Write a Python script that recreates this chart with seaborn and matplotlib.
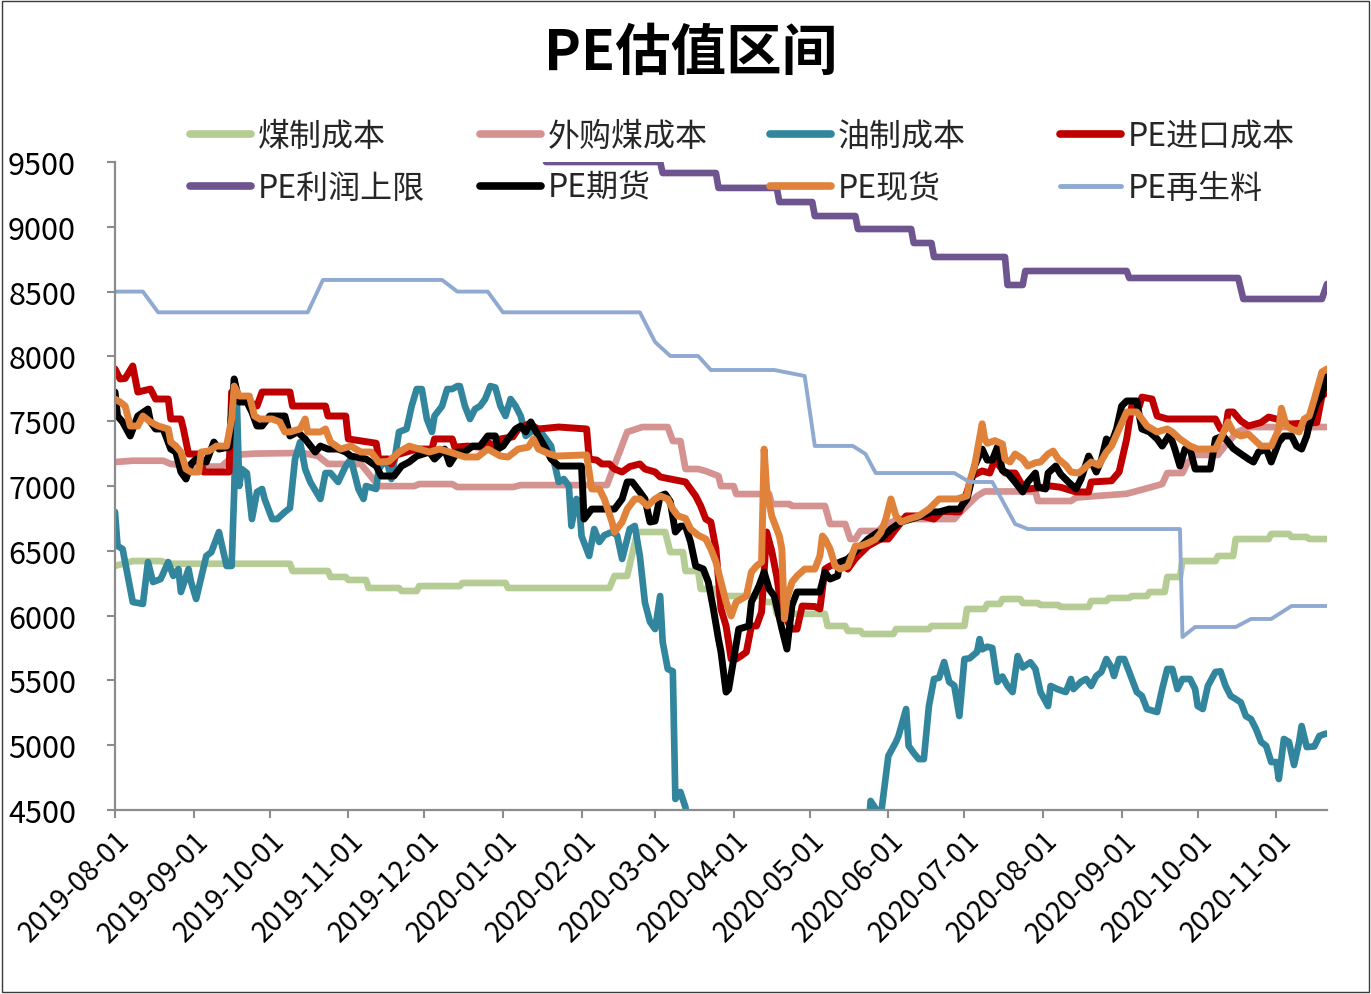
import pandas as pd
import numpy as np
import matplotlib
matplotlib.use("Agg")
import matplotlib.pyplot as plt
import matplotlib.dates as mdates
from matplotlib.lines import Line2D
from matplotlib.patches import Rectangle
import seaborn as sns

# ---------------- data ----------------
coal_cost = [
    ("2019-08-01", 6383), ("2019-08-08", 6421), ("2019-08-19", 6421), ("2019-08-23", 6400),
    ("2019-10-09", 6400), ("2019-10-10", 6344), ("2019-10-24", 6344), ("2019-10-25", 6298),
    ("2019-10-31", 6298), ("2019-11-01", 6275), ("2019-11-08", 6275), ("2019-11-09", 6213),
    ("2019-11-21", 6213), ("2019-11-22", 6190), ("2019-11-28", 6190), ("2019-11-29", 6228),
    ("2019-12-15", 6228), ("2019-12-16", 6252), ("2020-01-02", 6252), ("2020-01-03", 6213),
    ("2020-02-12", 6213), ("2020-02-14", 6306), ("2020-02-19", 6306), ("2020-02-23", 6645),
    ("2020-03-05", 6645), ("2020-03-07", 6490), ("2020-03-12", 6490), ("2020-03-13", 6344),
    ("2020-03-18", 6344), ("2020-03-19", 6205), ("2020-03-25", 6205), ("2020-03-26", 6151),
    ("2020-04-12", 6151), ("2020-04-13", 6105), ("2020-04-17", 6105), ("2020-04-18", 6013),
    ("2020-05-07", 6013), ("2020-05-08", 5920), ("2020-05-15", 5920), ("2020-05-16", 5882),
    ("2020-05-21", 5882), ("2020-05-22", 5858), ("2020-06-03", 5858), ("2020-06-04", 5896),
    ("2020-06-17", 5896), ("2020-06-18", 5920), ("2020-07-01", 5920), ("2020-07-02", 6051),
    ("2020-07-09", 6051), ("2020-07-10", 6090), ("2020-07-15", 6090), ("2020-07-16", 6128),
    ("2020-07-23", 6128), ("2020-07-24", 6097), ("2020-07-30", 6097), ("2020-07-31", 6082),
    ("2020-08-07", 6082), ("2020-08-08", 6067), ("2020-08-19", 6067), ("2020-08-20", 6113),
    ("2020-08-26", 6113), ("2020-08-27", 6136), ("2020-09-04", 6136), ("2020-09-05", 6151),
    ("2020-09-11", 6151), ("2020-09-12", 6182), ("2020-09-18", 6182), ("2020-09-19", 6298),
    ("2020-09-24", 6298), ("2020-09-25", 6421), ("2020-10-08", 6421), ("2020-10-09", 6460),
    ("2020-10-15", 6460), ("2020-10-16", 6591), ("2020-10-29", 6591), ("2020-10-30", 6630),
    ("2020-11-06", 6630), ("2020-11-07", 6607), ("2020-11-13", 6607), ("2020-11-14", 6591),
    ("2020-11-21", 6591),
]

bought_coal_cost = [
    ("2019-08-01", 7185), ("2019-08-08", 7195), ("2019-08-20", 7195), ("2019-08-23", 7170),
    ("2019-09-05", 7150), ("2019-09-12", 7150), ("2019-09-17", 7240), ("2019-09-25", 7250),
    ("2019-10-14", 7255), ("2019-10-20", 7232), ("2019-10-24", 7170), ("2019-11-06", 7170),
    ("2019-11-13", 6999), ("2019-11-27", 6999), ("2019-11-29", 7015), ("2019-12-12", 7015),
    ("2019-12-14", 6992), ("2020-01-05", 6992), ("2020-01-08", 7007), ("2020-02-11", 7007),
    ("2020-02-19", 7417), ("2020-02-25", 7455), ("2020-03-06", 7455), ("2020-03-08", 7347),
    ("2020-03-11", 7347), ("2020-03-13", 7131), ("2020-03-18", 7131), ("2020-03-21", 7115),
    ("2020-03-26", 7077), ("2020-03-27", 6999), ("2020-04-01", 6999), ("2020-04-02", 6938),
    ("2020-04-15", 6938), ("2020-04-16", 6861), ("2020-04-23", 6861), ("2020-04-24", 6846),
    ("2020-05-07", 6846), ("2020-05-09", 6707), ("2020-05-15", 6707), ("2020-05-17", 6591),
    ("2020-05-19", 6591), ("2020-05-21", 6653), ("2020-05-28", 6653), ("2020-05-30", 6692),
    ("2020-06-05", 6745), ("2020-06-27", 6745), ("2020-06-29", 6790), ("2020-07-06", 6923),
    ("2020-07-09", 6958), ("2020-07-29", 6958), ("2020-07-30", 6884), ("2020-08-12", 6884),
    ("2020-08-14", 6910), ("2020-08-20", 6920), ("2020-09-03", 6940), ("2020-09-10", 6977),
    ("2020-09-17", 7015), ("2020-09-19", 7100), ("2020-09-25", 7100), ("2020-09-27", 7180),
    ("2020-09-30", 7240), ("2020-10-09", 7240), ("2020-10-13", 7340), ("2020-10-17", 7420),
    ("2020-10-21", 7455), ("2020-11-21", 7455),
]

oil_cost = [
    ("2019-08-01", 6800), ("2019-08-02", 6537), ("2019-08-04", 6514), ("2019-08-08", 6105),
    ("2019-08-12", 6090), ("2019-08-14", 6413), ("2019-08-16", 6259), ("2019-08-19", 6282),
    ("2019-08-22", 6413), ("2019-08-24", 6306), ("2019-08-26", 6359), ("2019-08-27", 6182),
    ("2019-08-30", 6359), ("2019-08-31", 6259), ("2019-09-02", 6128), ("2019-09-06", 6460),
    ("2019-09-08", 6490), ("2019-09-11", 6645), ("2019-09-14", 6383), ("2019-09-16", 6383),
    ("2019-09-17", 6954), ("2019-09-18", 7700), ("2019-09-19", 7000), ("2019-09-20", 7131),
    ("2019-09-22", 7100), ("2019-09-24", 6745), ("2019-09-26", 6954), ("2019-09-28", 6977),
    ("2019-09-29", 6900), ("2019-10-02", 6745), ("2019-10-04", 6745), ("2019-10-07", 6800),
    ("2019-10-09", 6830), ("2019-10-11", 7208), ("2019-10-13", 7339), ("2019-10-15", 7131),
    ("2019-10-17", 7031), ("2019-10-21", 6900), ("2019-10-23", 7100), ("2019-10-25", 7100),
    ("2019-10-28", 7031), ("2019-10-31", 7154), ("2019-11-02", 7208), ("2019-11-05", 6977),
    ("2019-11-07", 6900), ("2019-11-08", 7000), ("2019-11-12", 6977), ("2019-11-13", 7131),
    ("2019-11-16", 7208), ("2019-11-18", 7054), ("2019-11-21", 7417), ("2019-11-24", 7440),
    ("2019-11-26", 7617), ("2019-11-28", 7748), ("2019-11-30", 7748), ("2019-12-02", 7517),
    ("2019-12-04", 7417), ("2019-12-05", 7540), ("2019-12-08", 7617), ("2019-12-10", 7748),
    ("2019-12-12", 7748), ("2019-12-14", 7771), ("2019-12-15", 7771), ("2019-12-17", 7617),
    ("2019-12-19", 7517), ("2019-12-21", 7594), ("2019-12-23", 7617), ("2019-12-25", 7671),
    ("2019-12-27", 7771), ("2019-12-29", 7760), ("2019-12-31", 7617), ("2020-01-02", 7540),
    ("2020-01-04", 7671), ("2020-01-06", 7617), ("2020-01-08", 7540), ("2020-01-10", 7386),
    ("2020-01-12", 7417), ("2020-01-15", 7440), ("2020-01-18", 7363), ("2020-01-20", 7308),
    ("2020-01-21", 7200), ("2020-01-23", 7031), ("2020-01-25", 7054), ("2020-01-27", 7000),
    ("2020-01-28", 6692), ("2020-01-30", 6900), ("2020-01-31", 6880), ("2020-02-01", 6614),
    ("2020-02-04", 6460), ("2020-02-06", 6668), ("2020-02-08", 6568), ("2020-02-10", 6620),
    ("2020-02-13", 6645), ("2020-02-15", 6620), ("2020-02-17", 6437), ("2020-02-20", 6668),
    ("2020-02-22", 6692), ("2020-02-24", 6460), ("2020-02-26", 6100), ("2020-02-28", 5951),
    ("2020-03-01", 5896), ("2020-03-03", 6151), ("2020-03-04", 5796), ("2020-03-06", 5588),
    ("2020-03-08", 5570), ("2020-03-09", 4585), ("2020-03-11", 4639), ("2020-03-13", 4520),
    ("2020-03-14", 4300), ("2020-05-24", 4300), ("2020-05-25", 4570), ("2020-05-27", 4510),
    ("2020-05-29", 4450), ("2020-06-01", 4917), ("2020-06-04", 5025), ("2020-06-05", 5071),
    ("2020-06-08", 5279), ("2020-06-09", 4995), ("2020-06-11", 4940), ("2020-06-13", 4893),
    ("2020-06-15", 4893), ("2020-06-17", 5302), ("2020-06-19", 5511), ("2020-06-21", 5520),
    ("2020-06-23", 5642), ("2020-06-25", 5488), ("2020-06-27", 5460), ("2020-06-29", 5225),
    ("2020-07-01", 5665), ("2020-07-03", 5670), ("2020-07-06", 5720), ("2020-07-07", 5819),
    ("2020-07-08", 5740), ("2020-07-10", 5760), ("2020-07-12", 5750), ("2020-07-14", 5488),
    ("2020-07-16", 5530), ("2020-07-18", 5457), ("2020-07-20", 5410), ("2020-07-22", 5688),
    ("2020-07-24", 5600), ("2020-07-27", 5640), ("2020-07-29", 5588), ("2020-07-31", 5410),
    ("2020-08-03", 5302), ("2020-08-04", 5457), ("2020-08-07", 5430), ("2020-08-10", 5410),
    ("2020-08-12", 5511), ("2020-08-13", 5433), ("2020-08-16", 5490), ("2020-08-18", 5511),
    ("2020-08-20", 5457), ("2020-08-22", 5534), ("2020-08-24", 5565), ("2020-08-26", 5665),
    ("2020-08-28", 5600), ("2020-08-29", 5534), ("2020-08-31", 5665), ("2020-09-02", 5665),
    ("2020-09-04", 5565), ("2020-09-07", 5410), ("2020-09-09", 5380), ("2020-09-11", 5279),
    ("2020-09-15", 5256), ("2020-09-17", 5433), ("2020-09-19", 5588), ("2020-09-21", 5588),
    ("2020-09-23", 5433), ("2020-09-25", 5511), ("2020-09-28", 5511), ("2020-09-30", 5433),
    ("2020-10-01", 5302), ("2020-10-03", 5279), ("2020-10-05", 5457), ("2020-10-08", 5565),
    ("2020-10-10", 5570), ("2020-10-12", 5457), ("2020-10-14", 5380), ("2020-10-16", 5356),
    ("2020-10-18", 5330), ("2020-10-20", 5225), ("2020-10-22", 5202), ("2020-10-24", 5125),
    ("2020-10-26", 5025), ("2020-10-28", 4995), ("2020-10-30", 4870), ("2020-11-01", 4870),
    ("2020-11-02", 4739), ("2020-11-04", 5048), ("2020-11-06", 5025), ("2020-11-08", 4847),
    ("2020-11-10", 5025), ("2020-11-11", 5148), ("2020-11-13", 4986), ("2020-11-16", 4990),
    ("2020-11-18", 5071), ("2020-11-20", 5086), ("2020-11-21", 5090),
]

import_cost = [
    ("2019-08-01", 7903), ("2019-08-03", 7826), ("2019-08-05", 7830), ("2019-08-08", 7926),
    ("2019-08-10", 7725), ("2019-08-15", 7748), ("2019-08-17", 7671), ("2019-08-22", 7671),
    ("2019-08-23", 7517), ("2019-08-27", 7517), ("2019-08-28", 7440), ("2019-08-30", 7247),
    ("2019-09-03", 7247), ("2019-09-05", 7108), ("2019-09-15", 7108), ("2019-09-16", 7725),
    ("2019-09-26", 7617), ("2019-09-28", 7725), ("2019-10-09", 7725), ("2019-10-10", 7617),
    ("2019-10-23", 7617), ("2019-10-24", 7540), ("2019-10-31", 7540), ("2019-11-01", 7363),
    ("2019-11-12", 7330), ("2019-11-13", 7208), ("2019-11-17", 7208), ("2019-11-18", 7170),
    ("2019-11-20", 7240), ("2019-11-28", 7285), ("2019-12-04", 7285), ("2019-12-05", 7363),
    ("2019-12-12", 7363), ("2019-12-13", 7300), ("2019-12-18", 7308), ("2019-12-23", 7300),
    ("2019-12-26", 7339), ("2019-12-29", 7300), ("2019-12-31", 7363), ("2020-01-05", 7380),
    ("2020-01-07", 7440), ("2020-01-11", 7478), ("2020-01-15", 7440), ("2020-01-23", 7455),
    ("2020-02-03", 7440), ("2020-02-04", 7208), ("2020-02-07", 7200), ("2020-02-09", 7170),
    ("2020-02-12", 7170), ("2020-02-14", 7131), ("2020-02-17", 7108), ("2020-02-20", 7150),
    ("2020-02-24", 7170), ("2020-02-26", 7131), ("2020-03-01", 7108), ("2020-03-03", 7070),
    ("2020-03-07", 7054), ("2020-03-13", 7031), ("2020-03-15", 6977), ("2020-03-17", 6923),
    ("2020-03-19", 6846), ("2020-03-21", 6745), ("2020-03-23", 6722), ("2020-03-25", 6514),
    ("2020-03-27", 6051), ("2020-03-29", 5920), ("2020-03-31", 5665), ("2020-04-02", 5665),
    ("2020-04-04", 5690), ("2020-04-06", 5719), ("2020-04-08", 5920), ("2020-04-10", 5920),
    ("2020-04-12", 6028), ("2020-04-14", 6645), ("2020-04-16", 6500), ("2020-04-18", 6300),
    ("2020-04-20", 6028), ("2020-04-21", 5997), ("2020-04-24", 5896), ("2020-04-26", 5896),
    ("2020-04-28", 6074), ("2020-05-03", 6070), ("2020-05-05", 6051), ("2020-05-07", 6359),
    ("2020-05-09", 6383), ("2020-05-13", 6413), ("2020-05-16", 6359), ("2020-05-19", 6440),
    ("2020-05-24", 6537), ("2020-05-29", 6591), ("2020-06-01", 6591), ("2020-06-04", 6668),
    ("2020-06-08", 6769), ("2020-06-14", 6769), ("2020-06-19", 6745), ("2020-06-22", 6800),
    ("2020-06-29", 6800), ("2020-07-02", 6954), ("2020-07-04", 7077), ("2020-07-08", 7116),
    ("2020-07-11", 7100), ("2020-07-13", 7200), ("2020-07-17", 7100), ("2020-07-21", 7100),
    ("2020-07-24", 6999), ("2020-07-26", 6977), ("2020-07-30", 6985), ("2020-08-04", 7000),
    ("2020-08-08", 6990), ("2020-08-14", 6954), ("2020-08-19", 6954), ("2020-08-20", 7031),
    ("2020-08-28", 7040), ("2020-08-31", 7108), ("2020-09-03", 7363), ("2020-09-05", 7617),
    ("2020-09-08", 7617), ("2020-09-09", 7686), ("2020-09-13", 7671), ("2020-09-15", 7540),
    ("2020-09-19", 7517), ("2020-10-08", 7517), ("2020-10-10", 7440), ("2020-10-12", 7440),
    ("2020-10-13", 7571), ("2020-10-15", 7571), ("2020-10-18", 7502), ("2020-10-21", 7463),
    ("2020-10-26", 7490), ("2020-10-29", 7532), ("2020-11-01", 7517), ("2020-11-06", 7478),
    ("2020-11-17", 7490), ("2020-11-19", 7694), ("2020-11-21", 7725),
]

profit_cap = [
    ("2019-08-01", 9800), ("2020-01-17", 9800), ("2020-01-18", 9500), ("2020-03-03", 9500),
    ("2020-03-04", 9415), ("2020-03-25", 9415), ("2020-03-26", 9300), ("2020-04-18", 9300),
    ("2020-04-19", 9191), ("2020-05-02", 9191), ("2020-05-03", 9083), ("2020-05-19", 9083),
    ("2020-05-20", 8983), ("2020-06-10", 8983), ("2020-06-11", 8875), ("2020-06-18", 8875),
    ("2020-06-19", 8767), ("2020-07-17", 8767), ("2020-07-18", 8551), ("2020-07-24", 8551),
    ("2020-07-25", 8659), ("2020-09-03", 8659), ("2020-09-04", 8605), ("2020-10-17", 8605),
    ("2020-10-19", 8443), ("2020-11-19", 8443), ("2020-11-21", 8559),
]

futures = [
    ("2019-08-01", 7725), ("2019-08-02", 7540), ("2019-08-04", 7494), ("2019-08-07", 7386),
    ("2019-08-10", 7540), ("2019-08-14", 7594), ("2019-08-15", 7494), ("2019-08-17", 7440),
    ("2019-08-20", 7440), ("2019-08-23", 7285), ("2019-08-25", 7262), ("2019-08-27", 7108),
    ("2019-08-29", 7054), ("2019-08-31", 7170), ("2019-09-02", 7208), ("2019-09-04", 7208),
    ("2019-09-06", 7185), ("2019-09-09", 7339), ("2019-09-11", 7285), ("2019-09-15", 7300),
    ("2019-09-17", 7826), ("2019-09-19", 7648), ("2019-09-22", 7648), ("2019-09-24", 7570),
    ("2019-09-26", 7463), ("2019-09-28", 7463), ("2019-10-01", 7540), ("2019-10-07", 7540),
    ("2019-10-09", 7386), ("2019-10-12", 7417), ("2019-10-15", 7363), ("2019-10-19", 7262),
    ("2019-10-21", 7308), ("2019-10-24", 7285), ("2019-10-28", 7285), ("2019-10-31", 7262),
    ("2019-11-02", 7231), ("2019-11-08", 7208), ("2019-11-12", 7154), ("2019-11-14", 7077),
    ("2019-11-19", 7077), ("2019-11-22", 7154), ("2019-11-25", 7185), ("2019-11-28", 7231),
    ("2019-12-03", 7262), ("2019-12-05", 7208), ("2019-12-09", 7285), ("2019-12-11", 7170),
    ("2019-12-14", 7262), ("2019-12-17", 7262), ("2019-12-20", 7308), ("2019-12-23", 7308),
    ("2019-12-26", 7386), ("2019-12-29", 7386), ("2019-12-30", 7285), ("2020-01-01", 7308),
    ("2020-01-03", 7363), ("2020-01-06", 7440), ("2020-01-08", 7463), ("2020-01-10", 7417),
    ("2020-01-12", 7494), ("2020-01-15", 7386), ("2020-01-18", 7285), ("2020-01-20", 7208),
    ("2020-01-23", 7154), ("2020-02-01", 7154), ("2020-02-02", 6745), ("2020-02-05", 6822),
    ("2020-02-14", 6822), ("2020-02-17", 6900), ("2020-02-19", 7031), ("2020-02-21", 7031),
    ("2020-02-24", 6954), ("2020-02-26", 6900), ("2020-02-28", 6722), ("2020-03-01", 6730),
    ("2020-03-03", 6923), ("2020-03-05", 6938), ("2020-03-07", 6880), ("2020-03-09", 6645),
    ("2020-03-11", 6690), ("2020-03-13", 6690), ("2020-03-15", 6568), ("2020-03-17", 6383),
    ("2020-03-20", 6360), ("2020-03-22", 6259), ("2020-03-24", 6051), ("2020-03-26", 5819),
    ("2020-03-27", 5719), ("2020-03-29", 5410), ("2020-03-30", 5430), ("2020-04-01", 5665),
    ("2020-04-03", 5896), ("2020-04-07", 5920), ("2020-04-08", 6105), ("2020-04-11", 6230),
    ("2020-04-13", 6336), ("2020-04-15", 6205), ("2020-04-17", 6151), ("2020-04-20", 5900),
    ("2020-04-22", 5742), ("2020-04-24", 6080), ("2020-04-26", 6182), ("2020-04-30", 6182),
    ("2020-05-05", 6182), ("2020-05-07", 6336), ("2020-05-09", 6282), ("2020-05-12", 6306),
    ("2020-05-13", 6413), ("2020-05-16", 6437), ("2020-05-20", 6514), ("2020-05-24", 6591),
    ("2020-05-28", 6645), ("2020-05-29", 6591), ("2020-06-02", 6668), ("2020-06-06", 6722),
    ("2020-06-10", 6745), ("2020-06-14", 6769), ("2020-06-18", 6800), ("2020-06-21", 6800),
    ("2020-06-25", 6822), ("2020-06-29", 6822), ("2020-07-02", 6900), ("2020-07-03", 6977),
    ("2020-07-05", 7154), ("2020-07-08", 7285), ("2020-07-10", 7200), ("2020-07-12", 7200),
    ("2020-07-14", 7300), ("2020-07-16", 7120), ("2020-07-18", 7100), ("2020-07-21", 7030),
    ("2020-07-24", 6954), ("2020-07-26", 7031), ("2020-07-29", 7100), ("2020-07-30", 6990),
    ("2020-08-02", 6977), ("2020-08-03", 7100), ("2020-08-06", 7154), ("2020-08-08", 7090),
    ("2020-08-11", 7031), ("2020-08-14", 6977), ("2020-08-16", 7054), ("2020-08-19", 7231),
    ("2020-08-22", 7108), ("2020-08-24", 7200), ("2020-08-26", 7363), ("2020-08-28", 7330),
    ("2020-08-30", 7440), ("2020-09-01", 7617), ("2020-09-03", 7656), ("2020-09-07", 7656),
    ("2020-09-08", 7540), ("2020-09-09", 7440), ("2020-09-12", 7417), ("2020-09-15", 7363),
    ("2020-09-17", 7308), ("2020-09-20", 7400), ("2020-09-22", 7285), ("2020-09-24", 7154),
    ("2020-09-26", 7285), ("2020-09-28", 7285), ("2020-09-30", 7131), ("2020-10-06", 7131),
    ("2020-10-08", 7363), ("2020-10-11", 7386), ("2020-10-13", 7340), ("2020-10-15", 7290),
    ("2020-10-17", 7262), ("2020-10-21", 7208), ("2020-10-23", 7185), ("2020-10-25", 7262),
    ("2020-10-28", 7285), ("2020-10-30", 7185), ("2020-11-02", 7339), ("2020-11-04", 7386),
    ("2020-11-07", 7386), ("2020-11-09", 7308), ("2020-11-11", 7285), ("2020-11-13", 7386),
    ("2020-11-14", 7470), ("2020-11-17", 7648), ("2020-11-19", 7700), ("2020-11-20", 7849),
    ("2020-11-21", 7760),
]

spot = [
    ("2019-08-01", 7671), ("2019-08-03", 7648), ("2019-08-05", 7617), ("2019-08-07", 7463),
    ("2019-08-10", 7463), ("2019-08-12", 7540), ("2019-08-15", 7494), ("2019-08-18", 7463),
    ("2019-08-22", 7440), ("2019-08-23", 7339), ("2019-08-25", 7308), ("2019-08-27", 7262),
    ("2019-08-29", 7131), ("2019-08-31", 7108), ("2019-09-03", 7108), ("2019-09-04", 7262),
    ("2019-09-07", 7270), ("2019-09-10", 7308), ("2019-09-14", 7308), ("2019-09-16", 7517),
    ("2019-09-17", 7771), ("2019-09-19", 7694), ("2019-09-23", 7694), ("2019-09-25", 7540),
    ("2019-09-27", 7517), ("2019-10-02", 7517), ("2019-10-05", 7494), ("2019-10-07", 7417),
    ("2019-10-09", 7417), ("2019-10-13", 7440), ("2019-10-15", 7517), ("2019-10-16", 7417),
    ("2019-10-21", 7417), ("2019-10-23", 7440), ("2019-10-25", 7339), ("2019-10-29", 7285),
    ("2019-11-02", 7308), ("2019-11-06", 7262), ("2019-11-10", 7262), ("2019-11-13", 7185),
    ("2019-11-17", 7190), ("2019-11-21", 7262), ("2019-11-25", 7308), ("2019-11-29", 7285),
    ("2019-12-03", 7262), ("2019-12-07", 7285), ("2019-12-11", 7262), ("2019-12-17", 7224),
    ("2019-12-22", 7224), ("2019-12-26", 7285), ("2019-12-31", 7231), ("2020-01-03", 7224),
    ("2020-01-07", 7285), ("2020-01-11", 7300), ("2020-01-13", 7363), ("2020-01-15", 7285),
    ("2020-01-19", 7250), ("2020-01-22", 7231), ("2020-02-03", 7240), ("2020-02-05", 6977),
    ("2020-02-08", 6977), ("2020-02-10", 6900), ("2020-02-13", 6722), ("2020-02-14", 6645),
    ("2020-02-17", 6722), ("2020-02-19", 6822), ("2020-02-22", 6900), ("2020-02-24", 6900),
    ("2020-02-27", 6846), ("2020-03-01", 6900), ("2020-03-03", 6923), ("2020-03-06", 6900),
    ("2020-03-08", 6822), ("2020-03-10", 6769), ("2020-03-13", 6750), ("2020-03-15", 6668),
    ("2020-03-18", 6620), ("2020-03-21", 6591), ("2020-03-23", 6514), ("2020-03-25", 6413),
    ("2020-03-27", 6260), ("2020-03-29", 6105), ("2020-03-31", 5997), ("2020-04-02", 6105),
    ("2020-04-06", 6151), ("2020-04-08", 6336), ("2020-04-10", 6383), ("2020-04-12", 6413),
    ("2020-04-13", 7285), ("2020-04-14", 6977), ("2020-04-16", 6769), ("2020-04-19", 6614),
    ("2020-04-20", 6514), ("2020-04-21", 5974), ("2020-04-22", 6128), ("2020-04-24", 6259),
    ("2020-04-26", 6306), ("2020-04-29", 6359), ("2020-05-03", 6359), ("2020-05-05", 6460),
    ("2020-05-06", 6614), ("2020-05-07", 6591), ("2020-05-09", 6514), ("2020-05-11", 6383),
    ("2020-05-13", 6359), ("2020-05-16", 6383), ("2020-05-19", 6537), ("2020-05-21", 6537),
    ("2020-05-24", 6560), ("2020-05-27", 6591), ("2020-05-29", 6640), ("2020-05-31", 6745),
    ("2020-06-02", 6900), ("2020-06-04", 6769), ("2020-06-06", 6722), ("2020-06-09", 6745),
    ("2020-06-13", 6769), ("2020-06-17", 6822), ("2020-06-21", 6900), ("2020-06-28", 6900),
    ("2020-07-02", 6923), ("2020-07-03", 7031), ("2020-07-05", 7154), ("2020-07-08", 7480),
    ("2020-07-09", 7363), ("2020-07-10", 7330), ("2020-07-13", 7350), ("2020-07-16", 7324),
    ("2020-07-17", 7208), ("2020-07-19", 7185), ("2020-07-21", 7247), ("2020-07-24", 7208),
    ("2020-07-26", 7154), ("2020-07-29", 7180), ("2020-07-31", 7185), ("2020-08-03", 7247),
    ("2020-08-05", 7270), ("2020-08-07", 7208), ("2020-08-10", 7160), ("2020-08-12", 7108),
    ("2020-08-15", 7100), ("2020-08-17", 7131), ("2020-08-20", 7185), ("2020-08-23", 7160),
    ("2020-08-26", 7262), ("2020-08-28", 7308), ("2020-08-31", 7440), ("2020-09-03", 7571),
    ("2020-09-07", 7571), ("2020-09-09", 7517), ("2020-09-11", 7463), ("2020-09-15", 7417),
    ("2020-09-19", 7440), ("2020-09-21", 7417), ("2020-09-24", 7363), ("2020-09-28", 7308),
    ("2020-10-01", 7285), ("2020-10-08", 7285), ("2020-10-10", 7363), ("2020-10-13", 7494),
    ("2020-10-15", 7417), ("2020-10-18", 7386), ("2020-10-21", 7400), ("2020-10-23", 7363),
    ("2020-10-26", 7308), ("2020-10-30", 7308), ("2020-11-02", 7440), ("2020-11-03", 7600),
    ("2020-11-05", 7463), ("2020-11-07", 7440), ("2020-11-10", 7417), ("2020-11-12", 7517),
    ("2020-11-14", 7540), ("2020-11-16", 7671), ("2020-11-19", 7880), ("2020-11-21", 7903),
]

recycled = [
    ("2019-08-01", 8500), ("2019-08-12", 8500), ("2019-08-18", 8340), ("2019-10-16", 8340),
    ("2019-10-22", 8590), ("2019-12-08", 8590), ("2019-12-14", 8500), ("2019-12-26", 8500),
    ("2020-01-01", 8340), ("2020-02-24", 8340), ("2020-03-01", 8111), ("2020-03-07", 8003),
    ("2020-03-18", 8003), ("2020-03-23", 7895), ("2020-04-17", 7895), ("2020-04-29", 7849),
    ("2020-05-03", 7309), ("2020-05-18", 7309), ("2020-05-23", 7247), ("2020-05-27", 7100),
    ("2020-06-27", 7100), ("2020-07-03", 7031), ("2020-07-12", 7031), ("2020-07-21", 6707),
    ("2020-07-26", 6668), ("2020-09-24", 6668), ("2020-09-25", 5835), ("2020-09-30", 5912),
    ("2020-10-16", 5912), ("2020-10-22", 5974), ("2020-10-30", 5974), ("2020-11-07", 6074),
    ("2020-11-21", 6074),
]

series_names = ["煤制成本", "外购煤成本", "油制成本", "PE进口成本",
                "PE利润上限", "PE期货", "PE现货", "PE再生料"]
series_data = [coal_cost, bought_coal_cost, oil_cost, import_cost,
               profit_cap, futures, spot, recycled]
colors = ["#B6CC95", "#D49291", "#31859C", "#C00000",
          "#6E5590", "#000000", "#E0823A", "#8FA9D1"]
widths = [4.8, 4.8, 4.8, 5.0, 4.8, 5.0, 5.0, 2.8]

y_ticks = [4500, 5000, 5500, 6000, 6500, 7000, 7500, 8000, 8500, 9000, 9500]
x_start, x_end = "2019-08-01", "2020-11-21"
title_text = "PE估值区间"

# ---------------- plotting ----------------
sns.set_theme(style="white")
plt.rcParams["font.family"] = ["Noto Sans CJK SC", "DejaVu Sans"]
plt.rcParams["axes.unicode_minus"] = False

fig = plt.figure(figsize=(13.71, 9.95), dpi=100)
ax = fig.add_axes([115 / 1371, 1 - 811 / 995, (1327 - 115) / 1371, (811 - 163) / 995])

for name, data, c, w in zip(series_names, series_data, colors, widths):
    df = pd.DataFrame(data, columns=["date", "value"])
    df["date"] = pd.to_datetime(df["date"])
    sns.lineplot(data=df, x="date", y="value", ax=ax, color=c, lw=w,
                 sort=False, legend=False, solid_joinstyle="round", solid_capstyle="round")

ax.set_xlim(pd.Timestamp(x_start), pd.Timestamp(x_end))
ax.set_ylim(y_ticks[0], y_ticks[-1])
ax.set_yticks(y_ticks)
ax.set_yticklabels([str(v) for v in y_ticks])
ax.xaxis.set_major_locator(mdates.MonthLocator())
ax.xaxis.set_major_formatter(mdates.DateFormatter("%Y-%m-%d"))
ax.set_xlabel("")
ax.set_ylabel("")

for s in ["top", "right"]:
    ax.spines[s].set_visible(False)
for s in ["left", "bottom"]:
    ax.spines[s].set_color("#8C8C8C")
    ax.spines[s].set_linewidth(1.6)

ax.tick_params(axis="y", direction="out", length=6, width=1.5, color="#8C8C8C",
               labelsize=22, pad=22, labelcolor="black", left=True)
ax.tick_params(axis="x", direction="out", length=6, width=1.5, color="#8C8C8C",
               labelsize=20, pad=5, labelcolor="black", bottom=True)
for lab in ax.get_xticklabels():
    lab.set_rotation(45)
    lab.set_ha("right")
    lab.set_va("top")
    lab.set_rotation_mode("anchor")

# legend: four columns of two entries each
col_x = [190, 480, 770, 1060]
for ci in range(4):
    idx = [ci, ci + 4]
    handles = [Line2D([0], [0], color=colors[i], lw=5.5 if i != 7 else 3.5) for i in idx]
    labels = [series_names[i] for i in idx]
    leg = fig.legend(handles, labels, loc="upper left",
                     bbox_to_anchor=(col_x[ci] / 1371, 1 - 121 / 995),
                     bbox_transform=fig.transFigure, frameon=False,
                     fontsize=23, handlelength=1.9, handletextpad=0.22,
                     labelspacing=0.62, borderpad=0, borderaxespad=0)

fig.text(0.504, 1 - 54 / 995, title_text, ha="center", va="center",
         fontsize=40, fontweight="bold", color="black")

fig.patches.append(Rectangle((0.0015, 0.002), 0.997, 0.996, transform=fig.transFigure,
                             fill=False, edgecolor="#3A3A3A", lw=1.0))

fig.savefig("out.png", dpi=100)
